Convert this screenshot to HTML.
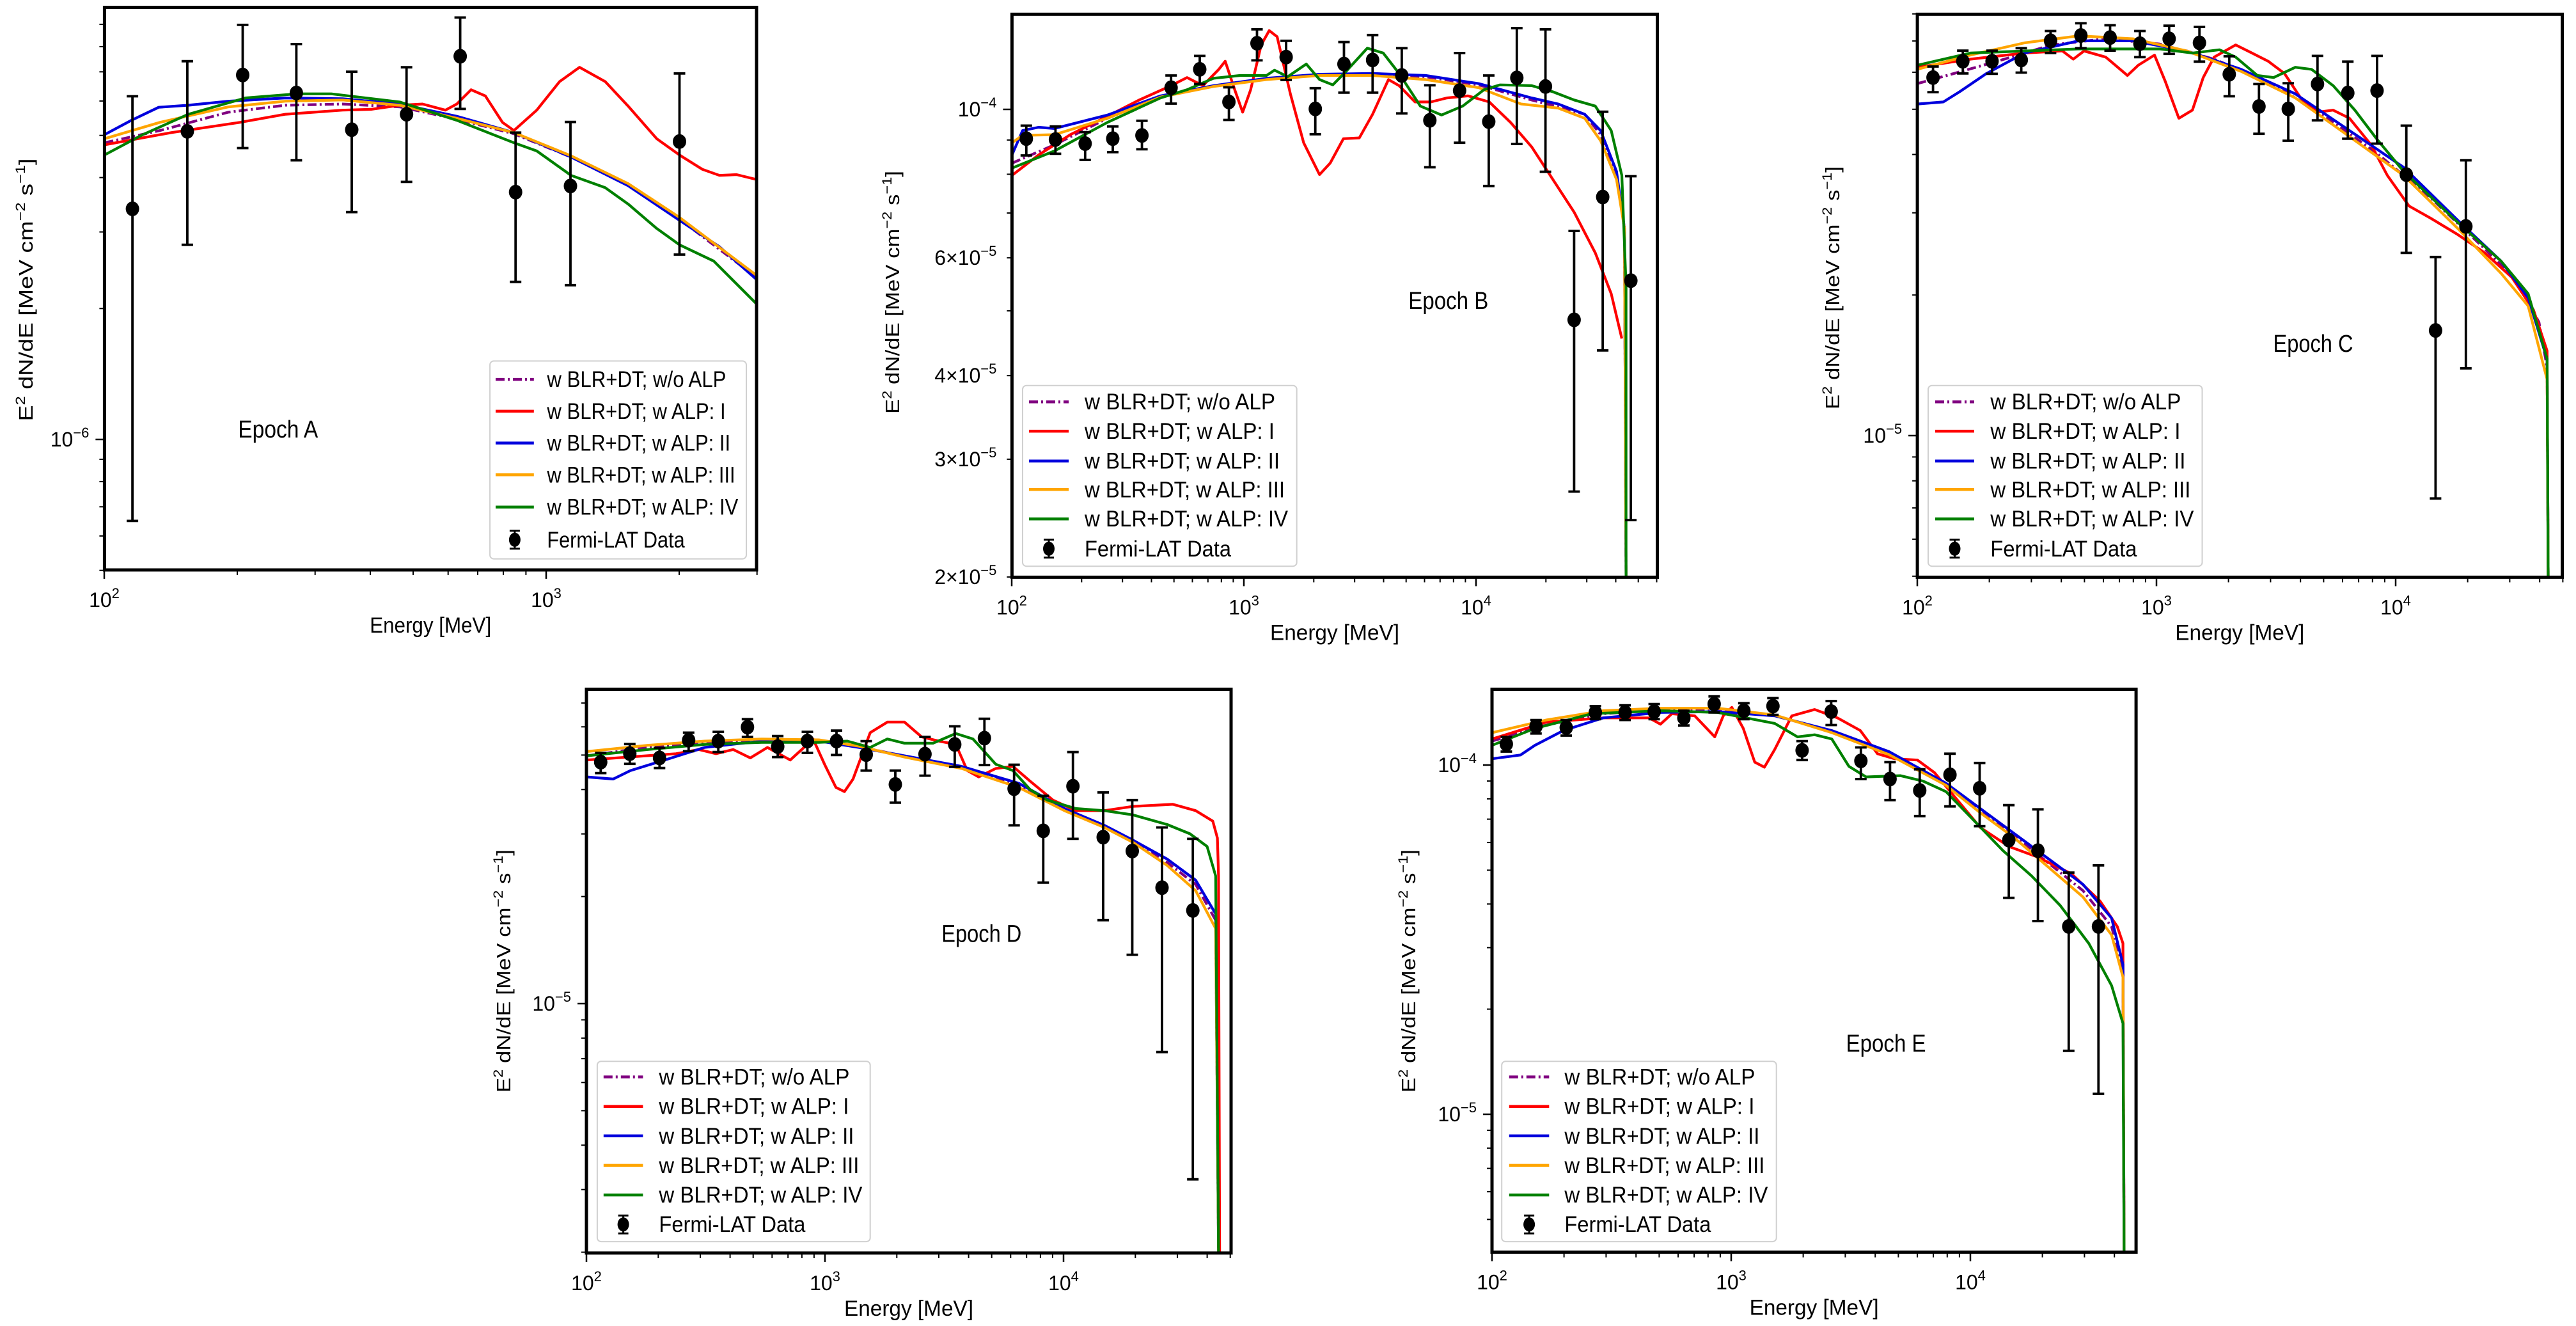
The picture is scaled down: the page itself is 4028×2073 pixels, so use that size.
<!DOCTYPE html>
<html><head><meta charset="utf-8">
<style>html,body{margin:0;padding:0;background:#fff;}svg{display:block;}</style>
</head><body>
<svg id="s" xmlns="http://www.w3.org/2000/svg" width="4028" height="2073" viewBox="0 0 4028 2073" font-family="Liberation Sans, DejaVu Sans, sans-serif"></svg>
<script>
var P=[
{n:'A',ox:0,oy:0,sx:1.12,sy:1.568,fr:[183,1325,18,1397],xr:[163,691],yr:[1e-6,687,680],lt:0.94,
 ep:[487,1055],leg:{rows:[930,1008,1086,1164,1243,1323],l:[868,935],t:958,box:[858,1307,885,1370]},yl:[40,453],
 pts:[[232,512,236,1277],[328,322,150,600],[425,184,61,363],[519,228,108,393],[616,318,176,520],[712,280,165,446],[806,138,43,267],[903,471,325,691],[999,456,299,699],[1190,347,180,624]],
 c:{purple:[[183,350],[280,320],[400,275],[500,258],[600,255],[700,262],[800,292],[900,328],[1000,385],[1100,452],[1190,537],[1325,680]],
 red:[[183,355],[300,325],[420,300],[500,280],[600,270],[650,268],[700,258],[740,255],[780,270],[800,255],[825,220],[850,235],[880,300],[900,320],[940,270],[980,200],[1015,165],[1060,200],[1100,260],[1150,340],[1190,380],[1230,415],[1260,430],[1290,428],[1325,440]],
 blue:[[183,330],[230,295],[278,263],[330,258],[400,248],[500,240],[600,242],[700,255],[800,285],[900,325],[1000,385],[1100,455],[1190,540],[1260,605],[1325,685]],
 orange:[[183,340],[280,300],[400,262],[500,248],[600,245],[700,258],[800,290],[900,325],[1000,382],[1100,450],[1190,533],[1325,675]],
 green:[[183,380],[250,330],[330,280],[430,240],[520,230],[580,230],[700,250],[800,295],[900,350],[940,370],[1000,430],[1060,460],[1100,500],[1150,560],[1190,600],[1250,640],[1325,745]]}},
{n:'B',ox:1400,oy:0,sx:1.206,sy:1.568,fr:[220,1437,35,1415],xr:[1582,363],yr:[1e-4,171,1046],lt:1,extra:[2,3,4,6],
 ep:[1043,740],leg:{rows:[985,1057,1130,1200,1272,1345],l:[252,327],t:357,box:[240,757,945,1388]},yl:[1395,457],
 pts:[[247,340,308,381],[302,342,310,377],[358,352,324,392],[410,340,310,373],[465,332,296,366],[520,215,185,254],[574,170,137,206],[629,250,214,294],[682,106,72,148],[737,140,100,196],[792,267,216,329],[846,157,103,227],[900,147,86,227],[955,185,118,278],[1008,295,209,410],[1064,222,130,350],[1119,298,185,456],[1172,191,69,353],[1226,212,72,421],[1280,784,566,1205],[1334,483,274,859],[1387,688,432,1275]],
 c:{purple:[[220,400],[300,355],[400,290],[500,237],[600,211],[700,193],[800,183],[900,182],[1000,188],[1100,208],[1200,245],[1250,262],[1300,280],[1330,330],[1360,425],[1375,560],[1378,1415]],
 red:[[220,430],[270,380],[330,330],[400,285],[460,245],[520,210],[550,190],[580,210],[610,170],[622,150],[640,220],[655,275],[670,220],[690,110],[705,75],[720,90],[745,230],[770,350],[800,428],[820,400],[845,340],[875,338],[900,280],[930,195],[950,210],[980,250],[1010,250],[1040,240],[1080,235],[1120,250],[1160,300],[1200,360],[1240,440],[1280,520],[1320,620],[1350,720],[1370,830]],
 blue:[[220,380],[240,320],[270,312],[300,315],[400,282],[500,235],[600,210],[700,192],[800,182],[900,180],[1000,185],[1100,205],[1200,240],[1250,255],[1300,280],[1330,320],[1360,420],[1375,560],[1378,1415]],
 orange:[[220,350],[240,332],[300,330],[400,290],[500,238],[600,212],[700,195],[800,185],[900,185],[1000,195],[1100,215],[1180,255],[1250,265],[1300,290],[1330,345],[1360,440],[1375,560],[1378,1415]],
 green:[[220,412],[300,370],[400,300],[500,240],[550,220],[600,192],[650,185],[700,185],[715,172],[740,188],[775,157],[800,195],[825,208],[850,175],[890,118],[920,130],[950,180],[990,260],[1030,282],[1070,260],[1110,220],[1140,208],[1200,210],[1240,225],[1280,245],[1320,260],[1350,320],[1370,430],[1378,700],[1378,1415]]}},
{n:'C',ox:2700,oy:0,sx:1.181,sy:1.568,fr:[352,1543,35,1415],xr:[2998,374],yr:[1e-5,681,730],lt:1,
 ep:[1083,845],leg:{rows:[985,1057,1130,1200,1272,1345],l:[385,457],t:487,box:[372,878,945,1388]},yl:[2865,450],
 pts:[[381,190,163,226],[436,150,124,180],[490,150,124,181],[544,147,118,178],[598,100,76,130],[654,87,57,118],[708,92,62,124],[763,107,76,140],[817,95,63,132],[873,105,66,151],[928,182,138,236],[983,261,206,328],[1037,267,204,345],[1091,206,137,295],[1147,228,151,340],[1201,222,137,352],[1255,428,308,620],[1309,810,630,1222],[1365,555,393,903]],
 c:{purple:[[352,205],[420,180],[500,150],[600,110],[700,95],[800,108],[900,145],[1000,200],[1100,280],[1200,375],[1300,485],[1400,610],[1460,690],[1500,790],[1515,900],[1517,1415]],
 red:[[352,165],[450,145],[550,130],[620,125],[640,145],[660,125],[700,140],[740,185],[760,160],[790,135],[810,200],[835,290],[860,270],[880,190],[900,140],[940,110],[970,130],[1000,150],[1030,180],[1060,240],[1090,275],[1120,270],[1150,290],[1190,355],[1220,430],[1260,505],[1300,535],[1350,575],[1400,620],[1450,680],[1490,760],[1515,860],[1517,1415]],
 blue:[[352,255],[400,250],[430,225],[480,180],[550,130],[650,100],[750,100],[850,125],[950,170],[1050,230],[1150,320],[1250,410],[1350,540],[1430,640],[1480,730],[1515,880],[1517,1415]],
 orange:[[352,170],[450,135],[550,105],[650,88],[750,95],[850,125],[950,175],[1050,240],[1150,335],[1250,430],[1350,560],[1430,670],[1480,750],[1515,930],[1517,1415]],
 green:[[352,160],[450,130],[550,125],[650,120],[800,120],[860,130],[910,122],[940,140],[980,185],[1010,190],[1050,165],[1080,170],[1120,210],[1160,270],[1200,340],[1250,420],[1350,545],[1430,640],[1480,720],[1515,880],[1517,1415]]}},
{n:'D',ox:700,oy:1040,sx:1.12,sy:1.518,fr:[243,1372,57,1395],xr:[917,373],yr:[1e-5,1569,556],lt:1,
 ep:[935,640],leg:{rows:[977,1047,1117,1187,1257,1327],l:[273,342],t:370,box:[262,740,940,1368]},yl:[787,1518],
 pts:[[268,230,208,256],[319,210,187,234],[371,220,196,244],[422,178,160,204],[474,180,158,206],[525,147,128,170],[578,193,168,218],[630,180,158,208],[681,180,155,213],[733,212,180,250],[784,283,250,326],[836,211,170,262],[888,188,145,241],[940,173,127,237],[992,293,236,380],[1043,393,310,516],[1095,287,206,412],[1148,408,302,605],[1199,441,320,687],[1251,528,385,918],[1305,582,412,1220]],
 c:{purple:[[243,215],[350,195],[450,182],[550,178],[650,178],[720,193],[800,216],[900,243],[1000,285],[1080,342],[1150,382],[1200,418],[1260,468],[1310,520],[1345,605],[1350,1395]],
 red:[[243,225],[400,210],[440,200],[470,210],[500,200],[530,220],[560,195],[600,225],[620,200],[640,175],[660,235],[680,290],[695,300],[710,270],[740,160],[770,135],[800,135],[830,170],[860,180],[890,188],[910,250],[930,265],[960,245],[990,240],[1020,275],[1060,320],[1100,345],[1150,345],[1200,335],[1270,330],[1310,345],[1340,370],[1348,410],[1350,500],[1352,1395]],
 blue:[[243,265],[290,270],[320,250],[380,225],[450,195],[550,180],[650,180],[720,195],[800,215],[900,240],[1000,280],[1080,340],[1150,380],[1200,415],[1260,460],[1310,510],[1345,590],[1350,1395]],
 orange:[[243,205],[350,190],[450,180],[550,175],[650,177],[720,192],[800,218],[900,245],[1000,290],[1080,345],[1150,385],[1200,420],[1260,475],[1310,535],[1345,625],[1350,1395]],
 green:[[243,215],[350,200],[450,188],[550,183],[650,183],[700,180],[740,195],[770,175],[800,185],[850,185],[890,162],[920,175],[960,235],[990,250],[1020,295],[1050,320],[1100,340],[1150,345],[1200,355],[1260,378],[1300,400],[1330,430],[1345,500],[1350,1395]]}},
{n:'E',ox:2150,oy:1040,sx:1.12,sy:1.518,fr:[205,1333,57,1393],xr:[2333,374],yr:[1e-4,1196,546],lt:1,
 ep:[895,900],leg:{rows:[977,1047,1117,1187,1257,1327],l:[235,305],t:332,box:[222,703,940,1368]},yl:[2202,1518],
 pts:[[230,187,170,205],[282,145,130,162],[335,148,130,167],[386,112,97,128],[438,112,95,130],[489,110,92,128],[541,125,108,143],[594,92,74,112],[646,108,90,128],[697,97,78,118],[748,202,180,225],[799,110,85,142],[851,227,195,270],[902,270,230,320],[954,297,247,358],[1007,260,210,335],[1059,292,232,382],[1110,415,332,552],[1161,440,342,607],[1215,620,492,915],[1267,620,475,1017]],
 c:{purple:[[205,180],[300,142],[400,115],[500,106],[600,106],[700,119],[800,158],[900,208],[1000,283],[1060,345],[1120,405],[1180,470],[1240,535],[1290,620],[1310,725],[1312,1393]],
 red:[[205,175],[300,135],[400,125],[480,125],[500,140],[520,115],[560,120],[595,170],[610,120],[625,100],[645,150],[665,230],[682,242],[700,200],[730,120],[770,105],[810,125],[850,155],[880,210],[910,222],[950,225],[980,255],[1020,320],[1060,385],[1110,430],[1160,455],[1220,495],[1270,560],[1300,620],[1310,660],[1312,1393]],
 blue:[[205,222],[255,213],[280,190],[330,155],[400,125],[500,112],[600,110],[700,120],[800,155],[900,205],[1000,280],[1060,340],[1120,400],[1180,460],[1240,520],[1290,600],[1310,710],[1312,1393]],
 orange:[[205,160],[300,130],[400,108],[500,102],[600,102],[700,118],[800,160],[900,212],[1000,285],[1060,350],[1120,410],[1180,480],[1240,550],[1290,640],[1310,740],[1312,1393]],
 green:[[205,190],[280,150],[380,115],[500,108],[600,112],[650,125],[700,138],[740,170],[770,165],[800,175],[830,240],[860,265],[920,262],[960,275],[1000,300],[1050,370],[1100,440],[1150,500],[1200,570],[1250,660],[1290,760],[1310,850],[1312,1393]]}}
];
var COL={purple:'#800080',red:'#ff0000',blue:'#0000dd',orange:'#ffa500',green:'#008000'};
var ORDER=['purple','red','blue','orange','green'];
var LAB=['w BLR+DT; w/o ALP','w BLR+DT; w ALP: I','w BLR+DT; w ALP: II','w BLR+DT; w ALP: III','w BLR+DT; w ALP: IV','Fermi-LAT Data'];
var LEN=[298,297,305,313,318,229];
var out='';
function f(v){return v.toFixed(1);}
P.forEach(function(p,i){
 function X(z){return p.ox+z/p.sx;} function Y(z){return p.oy+z/p.sy;}
 var L=X(p.fr[0]),R=X(p.fr[1]),T=Y(p.fr[2]),B=Y(p.fr[3]);
 out+='<clipPath id="c'+i+'"><rect x="'+f(L)+'" y="'+f(T)+'" width="'+f(R-L)+'" height="'+f(B-T)+'"/></clipPath>';
 for(var d=0;d<4;d++){for(var k=1;k<10;k++){var px=p.xr[0]+(d+Math.log10(k))*p.xr[1];if(px>R+1)break;
  var len=k==1?14:8;out+='<line x1="'+f(px)+'" y1="'+f(B)+'" x2="'+f(px)+'" y2="'+f(B+len)+'" stroke="#000" stroke-width="'+(k==1?2.5:2)+'"/>';
  if(k==1)out+='<text x="'+f(px)+'" y="'+f(B+58)+'" font-size="32" text-anchor="middle">10<tspan dy="-14" font-size="22">'+(d+2)+'</tspan></text>';}}
 for(var e=-7;e<=-3;e++){for(var k=1;k<10;k++){var v=k*Math.pow(10,e);var py=p.yr[1]-Math.log10(v/p.yr[0])*p.yr[2];
  if(py<T-1||py>B+1)continue;var len=k==1?14:8;
  out+='<line x1="'+f(L-len)+'" y1="'+f(py)+'" x2="'+f(L)+'" y2="'+f(py)+'" stroke="#000" stroke-width="'+(k==1?2.5:2)+'"/>';
  if(k==1)out+='<text x="'+f(L-24)+'" y="'+f(py+11)+'" font-size="32" text-anchor="end">10<tspan dy="-14" font-size="22">−'+(-e)+'</tspan></text>';
  else if(p.extra&&p.extra.indexOf(k)>=0&&e==-5)out+='<text x="'+f(L-24)+'" y="'+f(py+11)+'" font-size="32" text-anchor="end">'+k+'×10<tspan dy="-14" font-size="22">−5</tspan></text>';}}
 out+='<g clip-path="url(#c'+i+')" fill="none" stroke-width="4.2" stroke-linejoin="round">';
 ORDER.forEach(function(c){var pts=p.c[c];var d='M'+pts.map(function(q){return f(X(q[0]))+','+f(Y(q[1]));}).join('L');
  out+='<path d="'+d+'" stroke="'+COL[c]+'"'+(c=='purple'?' stroke-dasharray="14,5,3,5"':'')+'/>';});
 out+='</g>';
 p.pts.forEach(function(q){var x=X(q[0]),y=Y(q[1]),t=Y(q[2]),b=Y(q[3]);
  out+='<path d="M'+f(x)+','+f(t)+'V'+f(b)+'M'+f(x-9)+','+f(t)+'H'+f(x+9)+'M'+f(x-9)+','+f(b)+'H'+f(x+9)+'" stroke="#000" stroke-width="3.8" fill="none"/>';
  out+='<ellipse cx="'+f(x)+'" cy="'+f(y)+'" rx="10.5" ry="11.5" fill="#000"/>';});
 out+='<rect x="'+f(L)+'" y="'+f(T)+'" width="'+f(R-L)+'" height="'+f(B-T)+'" fill="none" stroke="#000" stroke-width="5"/>';
 var g=p.leg,bx=g.box;
 out+='<rect x="'+f(X(bx[0]))+'" y="'+f(Y(bx[2]))+'" width="'+f(X(bx[1])-X(bx[0]))+'" height="'+f(Y(bx[3])-Y(bx[2]))+'" rx="6" fill="#fff" fill-opacity="0.85" stroke="#d0d0d0" stroke-width="2"/>';
 g.rows.forEach(function(r,j){var y=Y(r),x1=X(g.l[0]),x2=X(g.l[1]);
  if(j<5)out+='<line x1="'+f(x1)+'" y1="'+f(y)+'" x2="'+f(x2)+'" y2="'+f(y)+'" stroke="'+COL[ORDER[j]]+'" stroke-width="4.5"'+(j==0?' stroke-dasharray="14,5,3,5"':'')+'/>';
  else{var xm=(x1+x2)/2;out+='<path d="M'+f(xm)+','+f(y-14)+'V'+f(y+14)+'M'+f(xm-8)+','+f(y-14)+'H'+f(xm+8)+'M'+f(xm-8)+','+f(y+14)+'H'+f(xm+8)+'" stroke="#000" stroke-width="3" fill="none"/><ellipse cx="'+f(xm)+'" cy="'+f(y)+'" rx="9" ry="11"/>';}
  out+='<text x="'+f(X(g.t))+'" y="'+f(y+12)+'" font-size="35" textLength="'+f(LEN[j]*p.lt)+'" lengthAdjust="spacingAndGlyphs">'+LAB[j]+'</text>';});
 out+='<text x="'+f(X(p.ep[0]))+'" y="'+f(Y(p.ep[1])+11)+'" font-size="38" text-anchor="middle" textLength="125" lengthAdjust="spacingAndGlyphs">Epoch '+p.n+'</text>';
 out+='<text x="'+f((L+R)/2)+'" y="'+f(B+98)+'" font-size="34" text-anchor="middle" textLength="'+(i==0?190:202)+'" lengthAdjust="spacingAndGlyphs">Energy [MeV]</text>';
 out+='<text transform="translate('+f(p.yl[0]+11)+','+f(p.yl[1])+') rotate(-90)" font-size="31" text-anchor="middle" textLength="'+(i==0?411:380)+'" lengthAdjust="spacingAndGlyphs">E<tspan dy="-12" font-size="21">2</tspan><tspan dy="12"> dN/dE [MeV cm</tspan><tspan dy="-12" font-size="21">−2</tspan><tspan dy="12"> s</tspan><tspan dy="-12" font-size="21">−1</tspan><tspan dy="12">]</tspan></text>';
});
document.getElementById('s').innerHTML=out;
</script>
</body></html>
